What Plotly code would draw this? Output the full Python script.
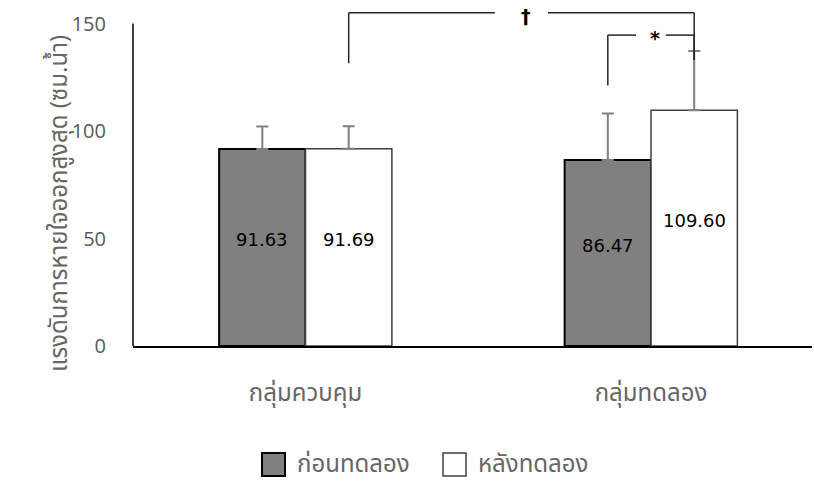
import plotly.graph_objects as go

# Peak expiratory pressure by group, before / after the program
groups = ["กลุ่มควบคุม", "กลุ่มทดลอง"]
series_names = ["ก่อนทดลอง", "หลังทดลอง"]
pre_values = [91.63, 86.47]
post_values = [91.69, 109.60]
pre_sd = [10.5, 21.7]
post_sd = [10.5, 27.6]
y_ticks = [0, 50, 100, 150]

# Significance brackets: (series index, group index) for each end, bracket height, leg ends, symbol
brackets = [
    {"a": (1, 0), "b": (1, 1), "top": 155.0, "leg_a": 131.5, "leg_b": 133.0, "label": "†"},
    {"a": (0, 1), "b": (1, 1), "top": 144.6, "leg_a": 121.2, "leg_b": 133.0, "label": "*"},
]

W, H = 814, 483
PL, PR, PT, PB = 133, 2, 2, 137
PW, PH = W - PL - PR, H - PT - PB

BAR_W = 0.25
x_pos = list(range(len(groups)))
TICK_GREY = "#595959"
THAI_GREY = "#666666"
THAI_FONT = "Noto Sans Thai, Leelawadee UI, Noto Sans, DejaVu Sans, sans-serif"


def bar_center(series_idx, group_idx):
    return x_pos[group_idx] + (series_idx - 0.5) * BAR_W


def px_to_paper(px, py):
    return (px - PL) / PW, (H - PB - py) / PH


fig = go.Figure()
fig.add_trace(go.Bar(
    x=x_pos, y=pre_values, name=series_names[0],
    marker=dict(color="#808080", line=dict(color="#000000", width=2)),
    error_y=dict(type="data", array=pre_sd, symmetric=False, arrayminus=[0, 0],
                 color="#808080", thickness=2, width=6),
    showlegend=False,
))
fig.add_trace(go.Bar(
    x=x_pos, y=post_values, name=series_names[1],
    marker=dict(color="#ffffff", line=dict(color="#404040", width=1.5)),
    error_y=dict(type="data", array=post_sd, symmetric=False, arrayminus=[0, 0],
                 color="#808080", thickness=2, width=6),
    showlegend=False,
))

annotations = []
shapes = []

# value labels inside the bars
for s_idx, vals in enumerate([pre_values, post_values]):
    for g_idx, v in enumerate(vals):
        annotations.append(dict(
            x=bar_center(s_idx, g_idx), y=v / 2, xref="x", yref="y",
            text=f"{v:.2f}", showarrow=False, yshift=8,
            font=dict(family="DejaVu Sans, Verdana, sans-serif", size=18, color="#000000"),
        ))

# significance brackets
for br in brackets:
    xa = bar_center(*br["a"])
    xb = bar_center(*br["b"])
    mid = (xa + xb) / 2
    gap = 0.077 if br["label"] == "†" else 0.043
    line = dict(color="#262626", width=1.5)
    shapes.append(dict(type="line", xref="x", yref="y", x0=xa, x1=xa, y0=br["leg_a"], y1=br["top"], line=line))
    shapes.append(dict(type="line", xref="x", yref="y", x0=xb, x1=xb, y0=br["leg_b"], y1=br["top"], line=line))
    shapes.append(dict(type="line", xref="x", yref="y", x0=xa, x1=mid - gap, y0=br["top"], y1=br["top"], line=line))
    shapes.append(dict(type="line", xref="x", yref="y", x0=mid + gap, x1=xb, y0=br["top"], y1=br["top"], line=line))
    annotations.append(dict(
        x=mid + 0.012, y=br["top"], xref="x", yref="y", text=f"<b>{br['label']}</b>",
        showarrow=False, yshift=-3,
        font=dict(family="DejaVu Sans, sans-serif", size=19, color="#000000"),
    ))

# vertical axis line only up to the top tick
shapes.append(dict(type="line", xref="paper", yref="y", x0=0, x1=0, y0=0, y1=150,
                   line=dict(color="#000000", width=1.5)))

# y-axis title
tx, ty = px_to_paper(40, 204)
annotations.append(dict(
    x=tx, y=ty, xref="paper", yref="paper", text="แรงดันการหายใจออกสูงสุด (ซม.น้ำ)",
    textangle=-90, showarrow=False,
    font=dict(family=THAI_FONT, size=24, color=THAI_GREY),
))

# legend drawn as boxed swatches with labels under the chart
legend_items = [
    (series_names[0], "#808080", "#000000", 2, 262),
    (series_names[1], "#ffffff", "#404040", 1.5, 443),
]
for name, fill, edge, lw, left_px in legend_items:
    x0, y0 = px_to_paper(left_px, 476)
    x1, y1 = px_to_paper(left_px + 23, 453)
    shapes.append(dict(type="rect", xref="paper", yref="paper", x0=x0, x1=x1, y0=y0, y1=y1,
                       fillcolor=fill, line=dict(color=edge, width=lw)))
    lx, ly = px_to_paper(left_px + 33, 465)
    annotations.append(dict(x=lx, y=ly, xref="paper", yref="paper", text=name, showarrow=False,
                            xanchor="left", yanchor="middle",
                            font=dict(family=THAI_FONT, size=24, color=THAI_GREY)))

fig.update_layout(
    width=W, height=H,
    margin=dict(l=PL, r=PR, t=PT, b=PB),
    paper_bgcolor="#ffffff", plot_bgcolor="#ffffff",
    barmode="group", bargap=0.5, bargroupgap=0,
    xaxis=dict(
        range=[-0.4993, 1.466], tickvals=x_pos, ticktext=groups,
        showgrid=False, zeroline=False, showline=True, linecolor="#000000", linewidth=2,
        ticks="", ticklabelstandoff=24,
        tickfont=dict(family=THAI_FONT, size=24, color=THAI_GREY),
    ),
    yaxis=dict(
        range=[0, 160], tickvals=y_ticks, showgrid=False, zeroline=False, showline=False,
        ticks="", ticklabelstandoff=26,
        tickfont=dict(family="Open Sans, sans-serif", size=20, color=TICK_GREY),
    ),
    shapes=shapes,
    annotations=annotations,
)

fig.write_html("out.html")
